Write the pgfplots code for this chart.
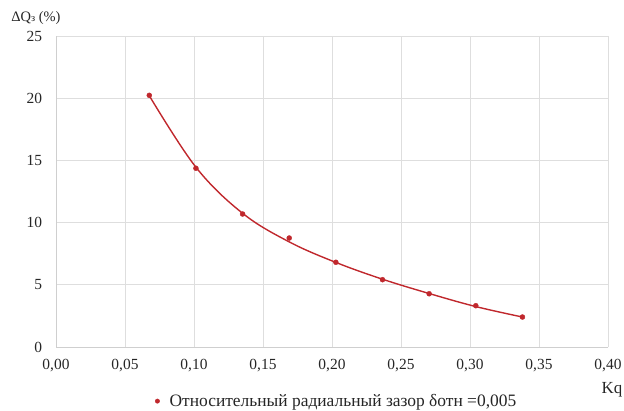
\documentclass[border=0pt]{standalone}
\usepackage{pgfplots}
\pgfplotsset{compat=1.18}
\usepackage{fontspec}
\setmainfont{Liberation Serif}
\definecolor{serred}{HTML}{C0282D}
\definecolor{gridc}{HTML}{DEDEDE}
\definecolor{axc}{HTML}{CFCFCF}
\definecolor{txt}{HTML}{262626}
\begin{document}
\begin{tikzpicture}
\fontsize{14.5}{17}\selectfont
\begin{axis}[
  at={(0,0)}, anchor=south west,
  scale only axis,
  width=552bp, height=311bp,
  xmin=0, xmax=0.4, ymin=0, ymax=25,
  xtick={0,0.05,0.10,0.15,0.20,0.25,0.30,0.35,0.40},
  ytick={0,5,10,15,20,25},
  grid=major,
  major grid style={gridc, line width=0.8bp},
  axis x line*=bottom, axis y line*=left,
  axis line style={axc, line width=0.9bp, -},
  tick style={draw=none},
  major tick length=0pt,
  tick label style={txt, font=\fontsize{15.5}{18}\selectfont},
  /pgf/number format/assume math mode=true,
  xticklabel style={/pgf/number format/.cd, use comma, fixed, fixed zerofill, precision=2, /tikz/.cd, yshift=-7bp},
  yticklabel style={/pgf/number format/.cd, fixed, precision=0, /tikz/.cd, xshift=-9bp},
  legend style={at={(0.510,-0.174)}, anchor=center, draw=none, fill=none,
    font=\fontsize{17.5}{20}\selectfont, text=txt, inner sep=0pt,
    nodes={inner sep=0pt, inner xsep=3.5bp}},
  legend image code/.code={\draw[#1, mark size=2.2bp] plot coordinates {(0cm,0cm)}; \path (0.3cm,0cm);},
  clip=false,
]
\addplot[serred, line width=1.4bp, smooth, tension=0.6, forget plot] coordinates {
  (0.0676,20.20) (0.1014,14.45) (0.1352,10.75) (0.1690,8.45)
  (0.2028,6.80) (0.2366,5.45) (0.2704,4.30) (0.3042,3.25) (0.3380,2.41)
};
\addplot[only marks, mark=*, mark size=2.5bp, color=serred] coordinates {
  (0.0676,20.23) (0.1014,14.37) (0.1352,10.69) (0.1690,8.76)
  (0.2028,6.81) (0.2366,5.41) (0.2704,4.28) (0.3042,3.32) (0.3380,2.41)
};
\addlegendentry{Относительный радиальный зазор δотн =0,005}
\end{axis}
\node[anchor=base, text=txt, inner sep=0pt] at (-20bp,325bp) {ΔQ{\fontsize{10.5}{12}\selectfont з} (\%)};
\node[anchor=base, text=txt, inner sep=0pt, font=\fontsize{17}{20}\selectfont] at (556bp,-46bp) {Kq};
\pgfresetboundingbox
\path[use as bounding box] (-56bp,-64bp) rectangle (568bp,347bp);
\end{tikzpicture}
\end{document}
